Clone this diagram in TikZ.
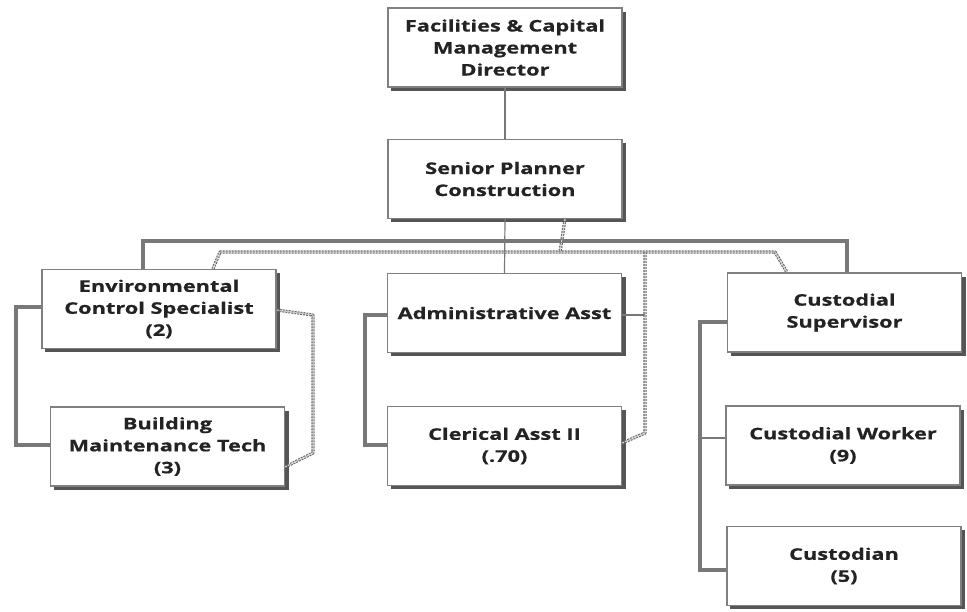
\documentclass[tikz,border=0pt]{standalone}
\usepackage{fontspec}
\setmainfont{Open Sans}
\newfontfamily\boxfont{Open Sans}[FakeStretch=1.36, FakeBold=0.6]
\usetikzlibrary{calc}
\definecolor{boxline}{RGB}{128,128,128}
\definecolor{boxshadow}{RGB}{85,85,85}
\definecolor{txt}{RGB}{35,35,35}
\definecolor{conn}{RGB}{120,120,120}
\definecolor{dashc}{RGB}{105,105,105}
\begin{document}
\begin{tikzpicture}[x=1pt,y=-1pt,
  post/.style={draw=boxline, line width=1.2pt, fill=white, rectangle,
    minimum width=234pt, minimum height=79pt, align=center, inner sep=2pt,
    text=txt, font=\boxfont\bfseries\fontsize{16}{22}\selectfont},
  shade/.style={fill=boxshadow},
  thin conn/.style={draw=conn, line width=1.2pt},
  thick conn/.style={draw=conn, line width=3.8pt, line join=miter},
  dotted conn/.style={draw=dashc, double=white!70!gray, double distance=1pt,
    line width=1.1pt, dash pattern=on 2pt off 1pt, line join=round}]
\useasboundingbox (0,0) rectangle (967,611);

% drop shadows behind the boxes
\foreach \cx/\cy in {505/47.5, 505/179, 159/309, 167.5/446.5, 504.5/313, 504.5/446, 844.5/312.5, 843/445.5, 844/566}
  \fill[shade] (\cx-114,\cy-36) rectangle (\cx+121,\cy+43);

% positions
\node[post] (dir)  at (505,47.5)   {Facilities \& Capital\\Management\\Director};
\node[post] (spc)  at (505,179)    {Senior Planner\\Construction};
\node[post] (env)  at (159,309)    {Environmental\\Control Specialist\\(2)};
\node[post] (bmt)  at (167.5,446.5){Building\\Maintenance Tech\\(3)};
\node[post] (adm)  at (504.5,313)  {Administrative Asst};
\node[post] (cla)  at (504.5,446)  {Clerical Asst II\\(.70)};
\node[post] (csup) at (844.5,312.5){Custodial\\Supervisor};
\node[post] (cw)   at (843,445.5)  {Custodial Worker\\(9)};
\node[post] (cust) at (844,566)    {Custodian\\(5)};

% reporting lines
\draw[thin conn] (dir.south) -- (spc.north);
\draw[thin conn] (spc.south) -- (adm.north);
\draw[thick conn] (143,0 |- env.north) -- (143,241) -- (847,241) -- (847,0 |- csup.north);
\draw[thick conn] (env.west |- 0,307) -- (16,307) -- (16,445) -- (bmt.west |- 0,445);
\draw[thick conn] (adm.west |- 0,315) -- (365,315) -- (365,445) -- (cla.west |- 0,445);
\draw[thick conn] (csup.west |- 0,322) -- (700,322) -- (700,570) -- (cust.west |- 0,570);
\draw[thin conn] (700,438) -- (cw.west |- 0,438);
\draw[thin conn] (adm.east |- 0,315) -- (645,315);

% dotted-line relationships
\coordinate (dl) at (220,252);
\coordinate (dr) at (775,252);
\draw[dotted conn] (213,0 |- env.north) -- (dl) -- (dr) -- (787,0 |- csup.north);
\draw[dotted conn] (565,0 |- spc.south) -- (560,252);
\draw[dotted conn] (645,252) -- (645,433) -- (cla.east |- 0,443);
\draw[dotted conn] (env.east |- 0,310) -- (313,315) -- (313,453) -- (bmt.east |- 0,467);
\end{tikzpicture}
\end{document}
